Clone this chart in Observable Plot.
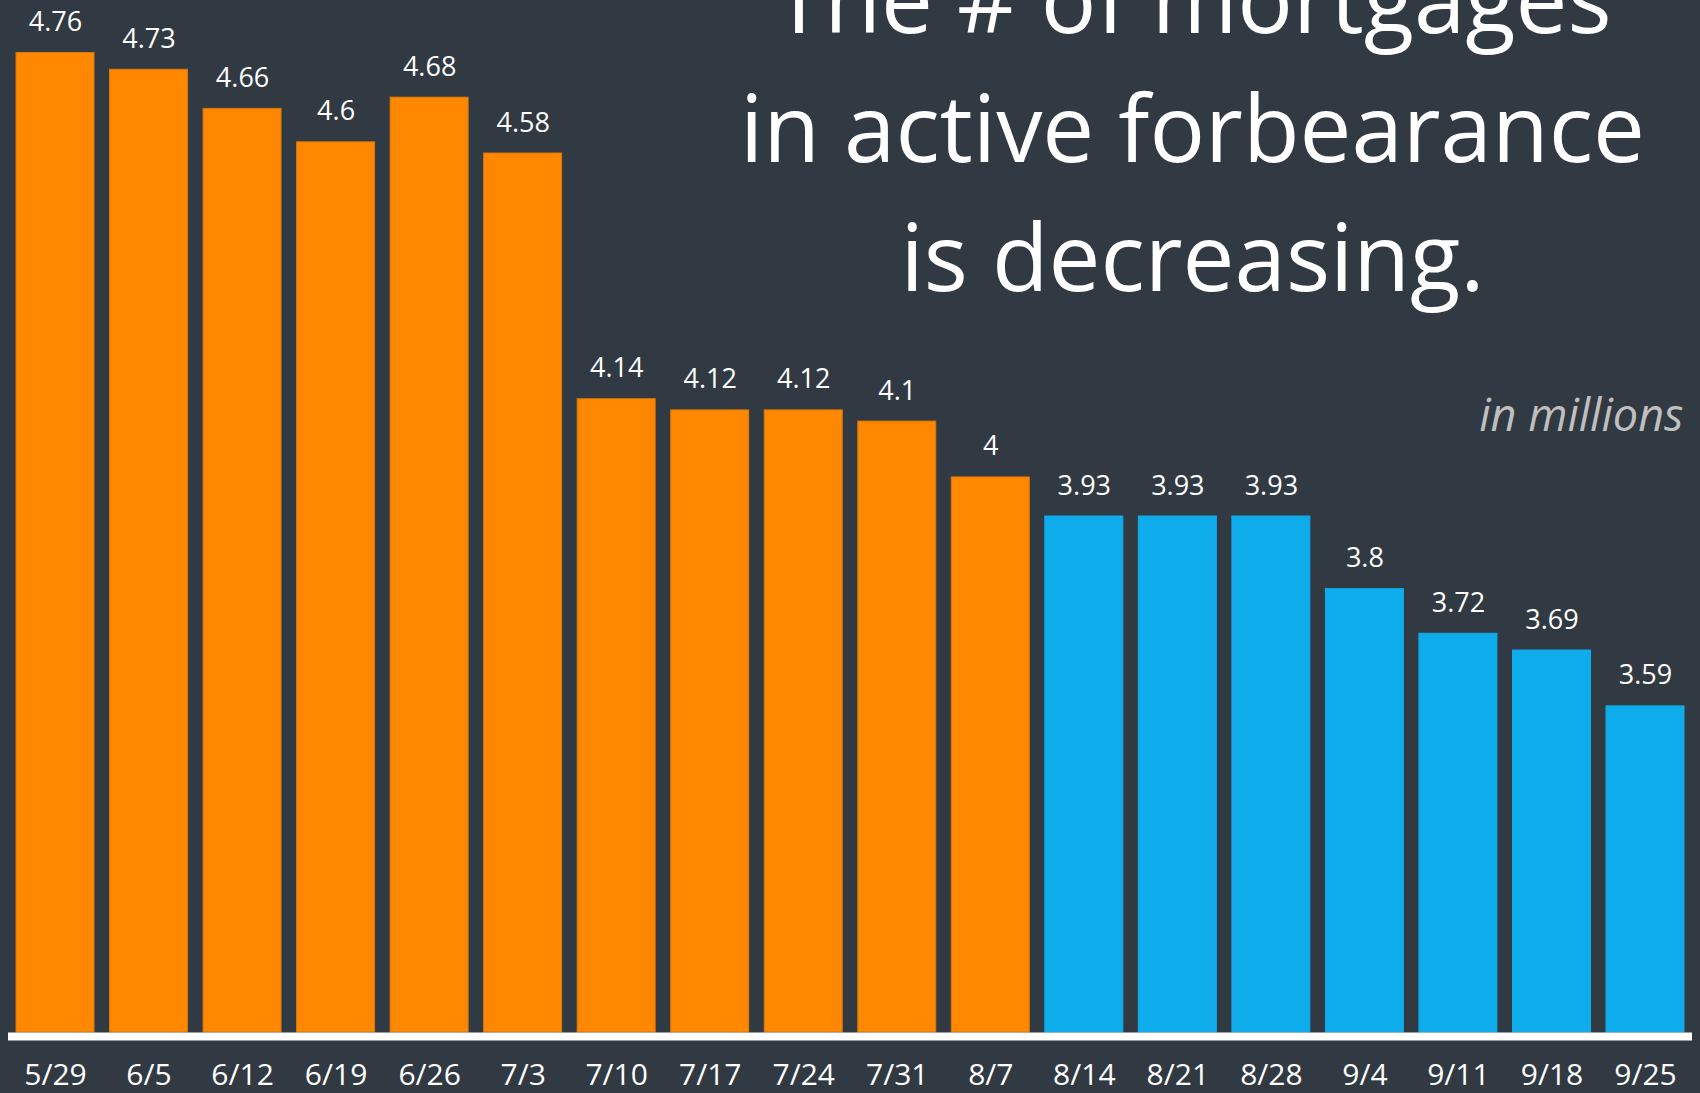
<!DOCTYPE html>
<html>
<head>
<meta charset="utf-8">
<script src="https://cdn.jsdelivr.net/npm/d3@7"></script>
<script src="https://cdn.jsdelivr.net/npm/@observablehq/plot@0.6"></script>
<style>
  html, body { margin: 0; padding: 0; background: #313942; }
  #chart svg { display: block; }
</style>
</head>
<body>
<div id="chart"></div>
<script>
// Weekly count of mortgages in active forbearance (millions)
const weeks = ["5/29", "6/5", "6/12", "6/19", "6/26", "7/3", "7/10", "7/17", "7/24",
               "7/31", "8/7", "8/14", "8/21", "8/28", "9/4", "9/11", "9/18", "9/25"];
const values = [4.76, 4.73, 4.66, 4.6, 4.68, 4.58, 4.14, 4.12, 4.12,
                4.1, 4, 3.93, 3.93, 3.93, 3.8, 3.72, 3.69, 3.59];
const periods = ["earlier", "earlier", "earlier", "earlier", "earlier", "earlier",
                 "earlier", "earlier", "earlier", "earlier", "earlier",
                 "recent", "recent", "recent", "recent", "recent", "recent", "recent"];
const periodColors = {earlier: "#FF8800", recent: "#0FACEB"};
const periodOutline = {earlier: "#d9780a", recent: "#0FACEB"};

const titleText = "The # of mortgages\nin active forbearance\nis decreasing.";
const unitText = "in millions";

const yMin = 3.006, yMax = 4.854;

const data = weeks.map((week, i) => ({week, value: values[i], period: periods[i]}));

const font = "'Open Sans', 'Noto Sans', sans-serif";

const chart = Plot.plot({
  width: 1700,
  height: 1093,
  marginTop: 0,
  marginBottom: 61,
  marginLeft: 16,
  marginRight: 16,
  style: {background: "#313942", color: "white", fontFamily: font},
  x: {domain: weeks, paddingInner: 0.166, paddingOuter: 0, round: false, axis: null},
  y: {domain: [yMin, yMax], axis: null},
  marks: [
    Plot.rectY(data, {
      x: "week",
      y1: yMin,
      y2: "value",
      fill: d => periodColors[d.period],
      stroke: d => periodOutline[d.period],
      strokeWidth: 1
    }),
    Plot.text(data, {
      x: "week",
      y: "value",
      text: d => String(d.value),
      lineAnchor: "bottom",
      dy: -22,
      fill: "white",
      fontSize: 27,
      fontFamily: font
    }),
    Plot.ruleY([yMin], {stroke: "white", strokeWidth: 8, dy: 4, insetLeft: -8, insetRight: -8}),
    Plot.axisX({
      label: null,
      tickSize: 0,
      tickPadding: 31,
      fontSize: 30,
      fontFamily: font,
      fill: "white"
    }),
    Plot.text([titleText], {
      frameAnchor: "top-right",
      textAnchor: "middle",
      lineAnchor: "bottom",
      lineHeight: 1.39,
      dx: -492,
      dy: 290,
      fill: "white",
      fontSize: 92.5,
      fontFamily: font
    }),
    Plot.text([unitText], {
      frameAnchor: "top-right",
      textAnchor: "end",
      lineAnchor: "bottom",
      dx: -1,
      dy: 430,
      fill: "#bfbfbf",
      fontSize: 45,
      fontStyle: "italic",
      fontFamily: font
    })
  ]
});

document.getElementById("chart").appendChild(chart);
</script>
</body>
</html>
